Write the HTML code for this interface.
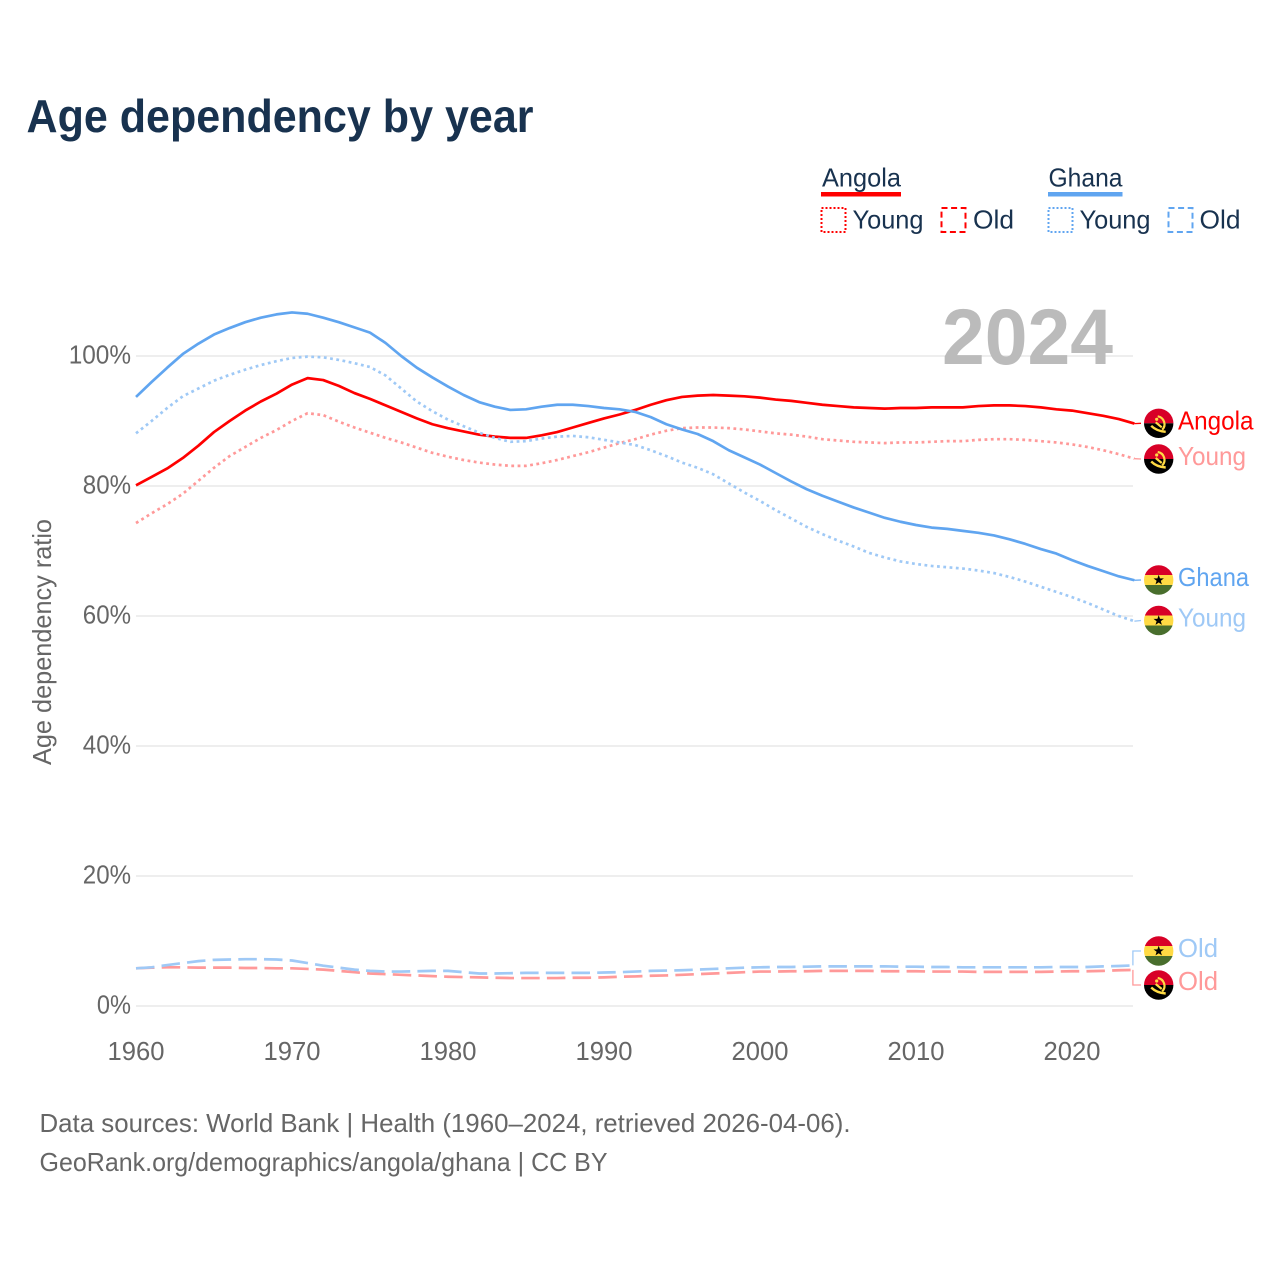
<!DOCTYPE html>
<html lang="en">
<head>
<meta charset="utf-8">
<title>Age dependency by year</title>
<style>
html,body{margin:0;padding:0;background:#fff;width:1280px;height:1280px;overflow:hidden}
svg{display:block}
text{font-family:"Liberation Sans",sans-serif}
</style>
</head>
<body>
<svg id="chart" width="1280" height="1280" viewBox="0 0 1280 1280" xmlns="http://www.w3.org/2000/svg">
  <defs>
    <clipPath id="flag-clip"><circle cx="0" cy="0" r="14.7"/></clipPath>
    <g id="flag-angola">
      <g clip-path="url(#flag-clip)">
        <rect x="-15" y="-15" width="30" height="15" fill="#d80027"/>
        <rect x="-15" y="0" width="30" height="15" fill="#000"/>
        <path d="M-1 -7 A8 8 0 0 1 3.5 6.5" fill="none" stroke="#ffda44" stroke-width="2.2"/>
        <path d="M-7.5 2.5 C-4 6 0 8 7 8.5" fill="none" stroke="#ffda44" stroke-width="2.4"/>
        <path d="M-3 -1 L3 4" stroke="#ffda44" stroke-width="2.2"/>
        <circle cx="-2" cy="-4" r="1.6" fill="#ffda44"/>
      </g>
    </g>
    <g id="flag-ghana">
      <g clip-path="url(#flag-clip)">
        <rect x="-15" y="-15" width="30" height="10" fill="#d80027"/>
        <rect x="-15" y="-5" width="30" height="10" fill="#ffda44"/>
        <rect x="-15" y="5" width="30" height="10" fill="#496e2d"/>
        <polygon points="0,-5.2 1.3,-1.6 5.2,-1.6 2.1,0.7 3.2,4.4 0,2.2 -3.2,4.4 -2.1,0.7 -5.2,-1.6 -1.3,-1.6" fill="#000"/>
      </g>
    </g>
  </defs>

  <text x="26.5" y="132" font-size="46" font-weight="700" fill="#18324f" textLength="507" lengthAdjust="spacingAndGlyphs">Age dependency by year</text>

  <g font-size="26" fill="#18324f">
    <text x="822" y="186.5" textLength="79" lengthAdjust="spacingAndGlyphs">Angola</text>
    <rect x="821" y="192" width="80" height="4.5" fill="#ff0000"/>
    <rect x="821.5" y="208" width="24" height="24" fill="none" stroke="#ff0000" stroke-width="2" stroke-dasharray="2 2"/>
    <text x="852.5" y="228.5" textLength="71" lengthAdjust="spacingAndGlyphs">Young</text>
    <rect x="941.5" y="208" width="24" height="24" fill="none" stroke="#ff0000" stroke-width="2" stroke-dasharray="6 3.6"/>
    <text x="973" y="228.5" textLength="41" lengthAdjust="spacingAndGlyphs">Old</text>

    <text x="1048.5" y="186.5" textLength="74" lengthAdjust="spacingAndGlyphs">Ghana</text>
    <rect x="1048" y="192" width="74.5" height="4.5" fill="#60a5f0"/>
    <rect x="1048.5" y="208" width="24" height="24" fill="none" stroke="#60a5f0" stroke-width="2" stroke-dasharray="2 2"/>
    <text x="1079.5" y="228.5" textLength="71" lengthAdjust="spacingAndGlyphs">Young</text>
    <rect x="1168.5" y="208" width="24" height="24" fill="none" stroke="#60a5f0" stroke-width="2" stroke-dasharray="6 3.6"/>
    <text x="1199.5" y="228.5" textLength="41" lengthAdjust="spacingAndGlyphs">Old</text>
  </g>

  <text transform="translate(51,765) rotate(-90)" font-size="26" fill="#666" textLength="246" lengthAdjust="spacingAndGlyphs">Age dependency ratio</text>

  <g id="grid"></g>
  <g id="y-ticks"></g>
  <g id="x-ticks"></g>

  <text x="942" y="364" font-size="79" font-weight="700" fill="#bbbbbb" textLength="171" lengthAdjust="spacingAndGlyphs">2024</text>

  <g id="series"></g>

  <g font-size="26">
    <use href="#flag-angola" x="1158.7" y="423.3"/>
    <text x="1178" y="429.5" fill="#ff0000" textLength="75.5" lengthAdjust="spacingAndGlyphs">Angola</text>
    <use href="#flag-angola" x="1158.7" y="459"/>
    <text x="1178" y="465" fill="#ff9999" textLength="68" lengthAdjust="spacingAndGlyphs">Young</text>
    <use href="#flag-ghana" x="1158.7" y="580"/>
    <text x="1178" y="586" fill="#60a5f0" textLength="71" lengthAdjust="spacingAndGlyphs">Ghana</text>
    <use href="#flag-ghana" x="1158.7" y="620.5"/>
    <text x="1178" y="626.5" fill="#9fc9f6" textLength="68" lengthAdjust="spacingAndGlyphs">Young</text>
    <use href="#flag-ghana" x="1158.7" y="951"/>
    <text x="1178" y="957" fill="#9fc9f6" textLength="40" lengthAdjust="spacingAndGlyphs">Old</text>
    <use href="#flag-angola" x="1158.7" y="985"/>
    <text x="1178" y="990" fill="#ff9999" textLength="40" lengthAdjust="spacingAndGlyphs">Old</text>
  </g>

  <g font-size="26" fill="#666">
    <text x="39.5" y="1132" textLength="811" lengthAdjust="spacingAndGlyphs">Data sources: World Bank | Health (1960–2024, retrieved 2026-04-06).</text>
    <text x="39.5" y="1171" textLength="568" lengthAdjust="spacingAndGlyphs">GeoRank.org/demographics/angola/ghana | CC BY</text>
  </g>
</svg>

<script>
var firstYear = 1960;
var yearTicks = [1960, 1970, 1980, 1990, 2000, 2010, 2020];
var pctTicks = [0, 20, 40, 60, 80, 100];

var ghanaTotal = [93.7,96,98.2,100.3,101.9,103.3,104.3,105.2,105.9,106.4,106.7,106.5,105.9,105.2,104.4,103.6,102,100,98.2,96.7,95.3,94,92.9,92.2,91.7,91.8,92.2,92.5,92.5,92.3,92,91.8,91.4,90.6,89.5,88.7,88,86.9,85.5,84.4,83.3,82,80.7,79.5,78.5,77.6,76.7,75.9,75.1,74.5,74,73.6,73.4,73.1,72.8,72.4,71.8,71.1,70.3,69.6,68.6,67.7,66.9,66.1,65.5];
var ghanaYoung = [88.1,90,92,93.8,95,96.2,97.1,97.9,98.6,99.2,99.7,99.9,99.8,99.4,98.9,98.3,97,95,93,91.5,90.2,89.2,88.2,87.4,86.8,86.9,87.3,87.6,87.7,87.5,87.1,86.7,86.3,85.5,84.6,83.6,82.8,81.8,80.4,79,77.7,76.3,75,73.7,72.6,71.6,70.7,69.7,69,68.4,68,67.7,67.5,67.3,67,66.6,66,65.3,64.5,63.7,62.9,62,61,60,59.2];
var ghanaOld = [5.8,5.95,6.3,6.6,6.9,7.1,7.15,7.2,7.2,7.15,7,6.6,6.2,5.9,5.6,5.4,5.3,5.3,5.35,5.4,5.4,5.2,5,5,5.05,5.1,5.1,5.1,5.1,5.1,5.15,5.2,5.3,5.4,5.45,5.5,5.6,5.7,5.8,5.9,5.95,6,6,6.05,6.1,6.1,6.1,6.1,6.1,6.05,6.05,6,6,5.95,5.95,5.95,5.95,5.95,5.95,6,6,6,6.1,6.15,6.25];
var angolaTotal = [80.1,81.4,82.7,84.3,86.2,88.3,90,91.6,93,94.2,95.6,96.6,96.3,95.4,94.3,93.4,92.4,91.4,90.4,89.5,88.9,88.4,87.9,87.6,87.4,87.4,87.8,88.3,89,89.7,90.4,91,91.7,92.5,93.2,93.7,93.9,94,93.9,93.8,93.6,93.3,93.1,92.8,92.5,92.3,92.1,92,91.9,92,92,92.1,92.1,92.1,92.3,92.4,92.4,92.3,92.1,91.8,91.6,91.2,90.8,90.3,89.6];
var angolaYoung = [74.3,75.8,77.2,78.8,80.8,82.8,84.6,86,87.4,88.6,90,91.2,90.9,89.9,89,88.2,87.4,86.7,85.9,85.1,84.5,84,83.6,83.3,83.1,83.1,83.5,84,84.6,85.2,85.9,86.6,87.2,87.9,88.5,88.9,89,89,88.9,88.7,88.4,88.1,87.9,87.6,87.2,87,86.8,86.7,86.6,86.7,86.7,86.8,86.9,86.9,87.1,87.2,87.2,87.1,86.9,86.7,86.4,86,85.5,84.9,84.2];
var angolaOld = [5.8,5.9,5.95,5.95,5.9,5.9,5.9,5.85,5.85,5.8,5.8,5.7,5.6,5.4,5.2,5,4.9,4.8,4.7,4.6,4.5,4.45,4.4,4.35,4.3,4.3,4.3,4.3,4.35,4.35,4.4,4.5,4.55,4.65,4.7,4.8,4.9,5,5.1,5.2,5.3,5.3,5.35,5.35,5.4,5.4,5.4,5.4,5.35,5.35,5.35,5.3,5.3,5.3,5.25,5.25,5.25,5.25,5.25,5.3,5.35,5.35,5.4,5.5,5.55];

function xScale(year) { return 136 + (year - 1960) * 15.6; }
function yScale(pct) { return 1006 - pct * 6.5; }
var NS = 'http://www.w3.org/2000/svg';
function make(tag, parentId) {
  var el = document.createElementNS(NS, tag);
  document.getElementById(parentId).appendChild(el);
  return el;
}

pctTicks.forEach(function (p) {
  var line = make('line', 'grid');
  
  
  line.setAttribute('x1', 136);
  line.setAttribute('x2', 1133);
  line.setAttribute('y1', yScale(p));
  line.setAttribute('y2', yScale(p));
  line.setAttribute('stroke', '#e8e8e8');
  line.setAttribute('stroke-width', '1.4');

  var label = make('text', 'y-ticks');
  
  
  label.setAttribute('x', 131);
  label.setAttribute('y', yScale(p) + 7.5);
  label.setAttribute('text-anchor', 'end');
  label.setAttribute('font-size', '25.6');
  label.setAttribute('fill', '#666');
  var str = p + '%';
  label.setAttribute('textLength', 14.1 * (str.length - 1) + 20);
  label.setAttribute('lengthAdjust', 'spacingAndGlyphs');
  label.textContent = str;
});

yearTicks.forEach(function (yr) {
  var label = make('text', 'x-ticks');
  
  
  label.setAttribute('x', xScale(yr));
  label.setAttribute('y', 1060);
  label.setAttribute('text-anchor', 'middle');
  label.setAttribute('font-size', '25.6');
  label.setAttribute('fill', '#666');
  label.textContent = yr;
});

function linePath(values) {
  return values.map(function (v, i) {
    return (i ? 'L' : 'M') + xScale(firstYear + i).toFixed(2) + ' ' + yScale(v).toFixed(2);
  }).join(' ');
}

function drawSeries(name, values, color, dash, labelY, elbow) {
  var path = make('path', 'series');
  
  
  path.setAttribute('d', linePath(values));
  path.setAttribute('fill', 'none');
  path.setAttribute('stroke', color);
  path.setAttribute('stroke-width', '2.7');
  path.setAttribute('stroke-linejoin', 'round');
  if (dash) path.setAttribute('stroke-dasharray', dash);

  var endX = xScale(firstYear + values.length - 1);
  var endY = yScale(values[values.length - 1]);
  var link = make('path', 'series');
  
  
  var d = elbow
    ? 'M' + (endX - 1.5) + ' ' + endY + ' V' + labelY + ' H1141'
    : 'M' + endX + ' ' + endY + ' L1141 ' + labelY;
  link.setAttribute('d', d);
  link.setAttribute('fill', 'none');
  link.setAttribute('stroke', color);
  link.setAttribute('stroke-width', '1.3');
}

var DOTTED = '2.8 3.5';
var DASHED = '18.5 7.2';
drawSeries('angola-young', angolaYoung, '#ff9999', DOTTED, 459, false);
drawSeries('angola-old', angolaOld, '#ff9999', DASHED, 985, true);
drawSeries('angola-total', angolaTotal, '#ff0000', null, 423.3, false);
drawSeries('ghana-young', ghanaYoung, '#9fc9f6', DOTTED, 620.5, false);
drawSeries('ghana-old', ghanaOld, '#9fc9f6', DASHED, 951, true);
drawSeries('ghana-total', ghanaTotal, '#60a5f0', null, 580, false);
</script>
</body>
</html>
